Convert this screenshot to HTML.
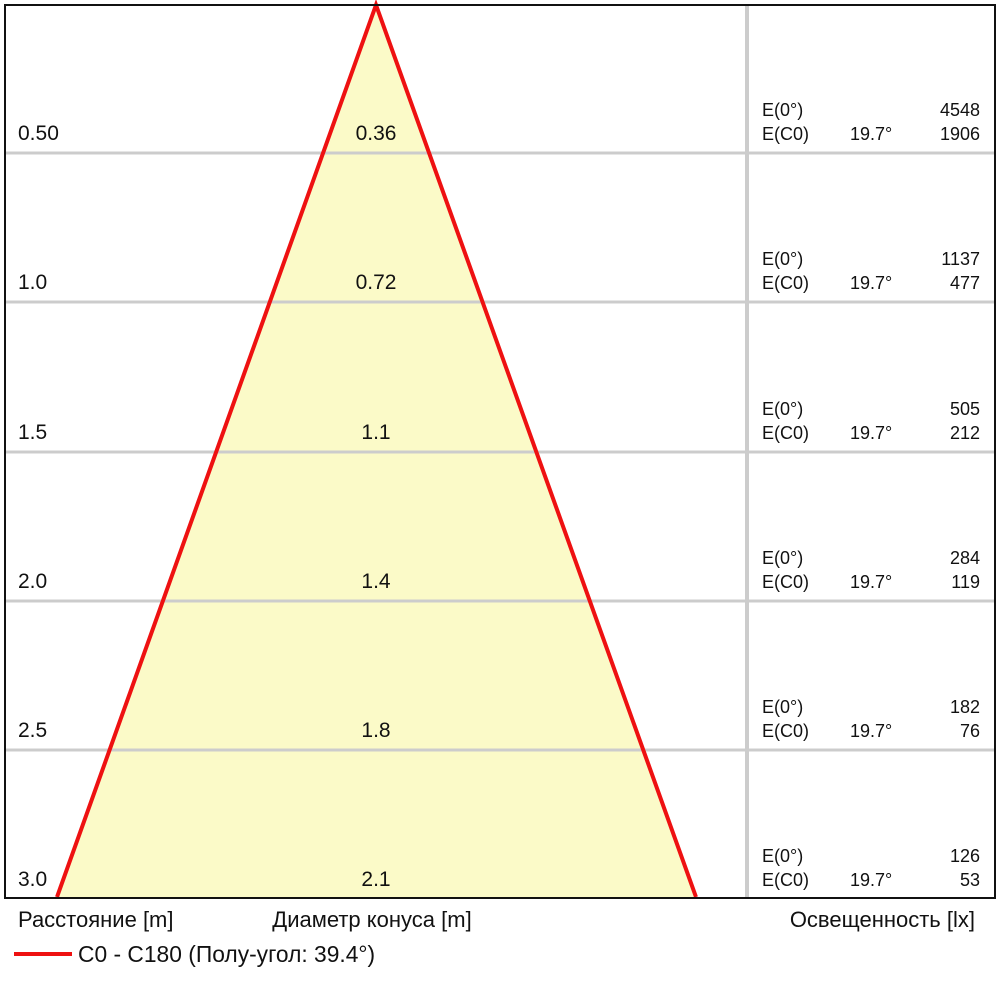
<!DOCTYPE html>
<html><head><meta charset="utf-8"><style>
body{margin:0;background:#fff;}
svg text{font-family:"Liberation Sans",sans-serif;font-size:21px;fill:#111;}
svg g.r text{font-size:18px;}
</style></head><body>
<svg width="1000" height="1000" viewBox="0 0 1000 1000" xmlns="http://www.w3.org/2000/svg">
<rect x="0" y="0" width="1000" height="1000" fill="#fff"/>
<polygon points="376,5 57,897 696,897" fill="#fbfac8"/>
<g stroke="#cccccc" stroke-width="3">
<line x1="5" y1="153" x2="995" y2="153"/>
<line x1="5" y1="302" x2="995" y2="302"/>
<line x1="5" y1="452" x2="995" y2="452"/>
<line x1="5" y1="601" x2="995" y2="601"/>
<line x1="5" y1="750" x2="995" y2="750"/>
</g>
<line x1="747" y1="5" x2="747" y2="898" stroke="#cccccc" stroke-width="4"/>
<polyline points="57,897 376,5 696,897" fill="none" stroke="#ee1111" stroke-width="4"/>
<rect x="5" y="5" width="990" height="893" fill="none" stroke="#111" stroke-width="2"/>
<g>
<text x="18" y="140">0.50</text><text x="376" y="140" text-anchor="middle">0.36</text>
<text x="18" y="289">1.0</text><text x="376" y="289" text-anchor="middle">0.72</text>
<text x="18" y="439">1.5</text><text x="376" y="439" text-anchor="middle">1.1</text>
<text x="18" y="588">2.0</text><text x="376" y="588" text-anchor="middle">1.4</text>
<text x="18" y="737">2.5</text><text x="376" y="737" text-anchor="middle">1.8</text>
<text x="18" y="886">3.0</text><text x="376" y="886" text-anchor="middle">2.1</text>
</g>
<g class="r">
<text x="762" y="116">E(0°)</text><text x="980" y="116" text-anchor="end">4548</text>
<text x="762" y="140">E(C0)</text><text x="850" y="140">19.7°</text><text x="980" y="140" text-anchor="end">1906</text>
<text x="762" y="265">E(0°)</text><text x="980" y="265" text-anchor="end">1137</text>
<text x="762" y="289">E(C0)</text><text x="850" y="289">19.7°</text><text x="980" y="289" text-anchor="end">477</text>
<text x="762" y="415">E(0°)</text><text x="980" y="415" text-anchor="end">505</text>
<text x="762" y="439">E(C0)</text><text x="850" y="439">19.7°</text><text x="980" y="439" text-anchor="end">212</text>
<text x="762" y="564">E(0°)</text><text x="980" y="564" text-anchor="end">284</text>
<text x="762" y="588">E(C0)</text><text x="850" y="588">19.7°</text><text x="980" y="588" text-anchor="end">119</text>
<text x="762" y="713">E(0°)</text><text x="980" y="713" text-anchor="end">182</text>
<text x="762" y="737">E(C0)</text><text x="850" y="737">19.7°</text><text x="980" y="737" text-anchor="end">76</text>
<text x="762" y="862">E(0°)</text><text x="980" y="862" text-anchor="end">126</text>
<text x="762" y="886">E(C0)</text><text x="850" y="886">19.7°</text><text x="980" y="886" text-anchor="end">53</text>
</g>
<text x="18" y="927" style="font-size:22px">Расстояние [m]</text>
<text x="372" y="927" text-anchor="middle" style="font-size:22px">Диаметр конуса [m]</text>
<text x="975" y="927" text-anchor="end" style="font-size:22px">Освещенность [lx]</text>
<line x1="14" y1="954" x2="72" y2="954" stroke="#ee1111" stroke-width="4"/>
<text x="78" y="962" style="font-size:22.8px">C0 - C180 (Полу-угол: 39.4°)</text>
</svg>
</body></html>
